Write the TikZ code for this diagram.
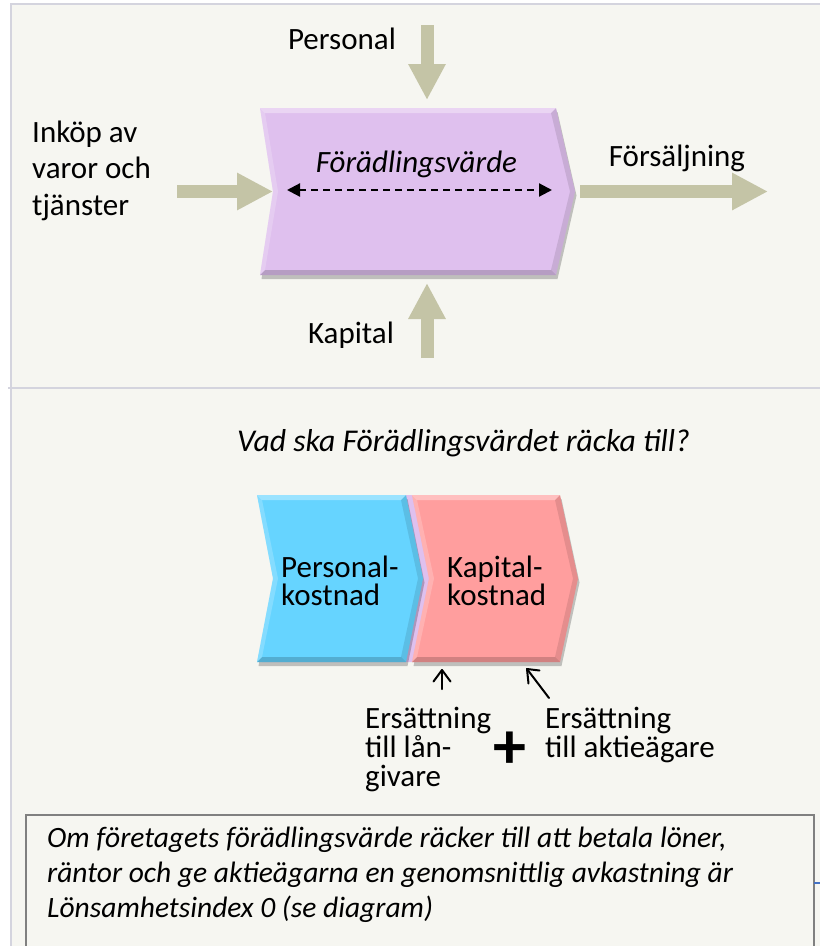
\documentclass[tikz,border=0pt]{standalone}
\usepackage{fontspec}
\setmainfont{Carlito}
\usetikzlibrary{arrows.meta,shadows}
\definecolor{bgc}{RGB}{246,246,241}
\definecolor{framec}{RGB}{212,212,222}
\definecolor{khaki}{RGB}{196,196,166}
\definecolor{lav}{RGB}{223,192,238}
\definecolor{skyb}{RGB}{102,212,255}
\definecolor{salmon}{RGB}{255,158,158}
\definecolor{boxline}{RGB}{128,128,128}
\definecolor{tickblue}{RGB}{68,114,196}
\tikzset{
  lbl/.style={inner sep=0pt, font=\fontsize{31}{31}\selectfont},
  ilbl/.style={inner sep=0pt, font=\fontsize{31}{31}\selectfont\itshape},
  qlbl/.style={inner sep=0pt, font=\fontsize{31.7}{31}\selectfont\itshape},
  notelbl/.style={inner sep=0pt, font=\fontsize{29.5}{30}\selectfont\itshape},
  blockarrow/.style={draw=khaki, line width=13pt, -{Triangle[width=35pt,length=36pt]}},
  smallline/.style={draw=black, line width=2pt, line cap=round, line join=round},
  framelines/.style={draw=framec, line width=2pt},
  chevshadow/.style={drop shadow={shadow xshift=1.5pt, shadow yshift=-4pt, opacity=0.22, fill=black}}
}
% #1 L, #2 R, #3 T, #4 B, #5 tip depth, #6 notch depth, #7 colour
\newcommand{\chevshape}[7]{%
  \pgfmathsetmacro\chvM{(#3+#4)/2}%
  \pgfmathsetmacro\chvTip{#2+#5}%
  \pgfmathsetmacro\chvNo{#1+#6}%
  \pgfmathsetmacro\chvLi{#1+5}%
  \pgfmathsetmacro\chvRi{#2-5}%
  \pgfmathsetmacro\chvTi{#3+5}%
  \pgfmathsetmacro\chvBi{#4-5}%
  \pgfmathsetmacro\chvTipi{#2+#5-5}%
  \pgfmathsetmacro\chvNoi{#1+#6+5}%
  \fill[#7, chevshadow] (#1,#3) -- (#2,#3) -- (\chvTip,\chvM) -- (#2,#4) -- (#1,#4) -- (\chvNo,\chvM) -- cycle;
  \fill[white, opacity=0.35] (#1,#3) -- (#2,#3) -- (\chvRi,\chvTi) -- (\chvLi,\chvTi) -- cycle;
  \fill[black, opacity=0.10] (#2,#3) -- (\chvTip,\chvM) -- (#2,#4) -- (\chvRi,\chvBi) -- (\chvTipi,\chvM) -- (\chvRi,\chvTi) -- cycle;
  \fill[black, opacity=0.18] (#1,#4) -- (#2,#4) -- (\chvRi,\chvBi) -- (\chvLi,\chvBi) -- cycle;
  \fill[white, opacity=0.20] (#1,#3) -- (\chvNo,\chvM) -- (#1,#4) -- (\chvLi,\chvBi) -- (\chvNoi,\chvM) -- (\chvLi,\chvTi) -- cycle;
}
\begin{document}
\begin{tikzpicture}[x=1pt, y=-1pt]
\useasboundingbox (0,0) rectangle (820,946);
\fill[white] (0,0) rectangle (820,946);
\fill[bgc] (11,4) rectangle (820,946);
% frame
\coordinate (fTL) at (11,4);
\coordinate (fTR) at (820,4);
\coordinate (fBL) at (11,946);
\coordinate (sL) at (8,388);
\coordinate (sR) at (820,388);
\draw[framelines] (fTR) -- (fTL) -- (fBL);
\draw[framelines] (sL) -- (sR);

% ---------- top panel ----------
\chevshape{260}{556}{108}{275}{19}{13}{lav}
\node[ilbl, anchor=base] (fv) at (416.5,172) {Förädlingsvärde};
\coordinate (dA) at (287,190);
\coordinate (dB) at (552,190);
\draw[line width=2.2pt, dash pattern=on 7pt off 5pt, {Triangle[width=13pt,length=13pt]}-{Triangle[width=13pt,length=13pt]}] (dA) -- (dB);

\coordinate (pS) at (427,25);   \coordinate (pE) at (427,100);
\coordinate (kS) at (427,358);  \coordinate (kE) at (427,283);
\coordinate (iS) at (177,191.5);\coordinate (iE) at (273,191.5);
\coordinate (fS) at (580,191.5);\coordinate (fE) at (768,191.5);
\draw[blockarrow] (pS) -- (pE);
\draw[blockarrow] (kS) -- (kE);
\draw[blockarrow] (iS) -- (iE);
\draw[blockarrow] (fS) -- (fE);

\node[lbl, anchor=base] (personal) at (342,49) {Personal};
\node[lbl, anchor=base] (kapital) at (351,343) {Kapital};
\node[lbl, anchor=base] (forsalj) at (677,166) {Försäljning};
\node[lbl, anchor=base west] (ink1) at (32,142) {Inköp av};
\node[lbl, anchor=base west] (ink2) at (32,178.5) {varor och};
\node[lbl, anchor=base west] (ink3) at (32,215) {tjänster};

% ---------- lower panel ----------
\node[qlbl, anchor=base west] (fraga) at (237,451) {Vad ska Förädlingsvärdet räcka till?};

\fill[lav] (262,495) -- (414,495) -- (431,577) -- (414,662) -- (262,662) -- (277,577) -- cycle;
\chevshape{257}{406}{495}{662}{17}{16}{skyb}
\chevshape{412}{560}{495}{662}{18}{17}{salmon}

\node[lbl, anchor=base west] (pk1) at (281,577) {Personal-};
\node[lbl, anchor=base west] (pk2) at (281,605) {kostnad};
\node[lbl, anchor=base west] (kk1) at (447,577) {Kapital-};
\node[lbl, anchor=base west] (kk2) at (447,605) {kostnad};

\coordinate (a1S) at (442,689); \coordinate (a1E) at (442,670);
\coordinate (a2S) at (549,698); \coordinate (a2E) at (527,669);
\draw[smallline] (a1S) -- (a1E);
\draw[smallline] (a1E) ++(-8.5,11.5) -- (a1E) -- ++(8.5,11.5);
\draw[smallline] (a2S) -- (a2E);
\draw[smallline] (a2E) ++(12.5,1.5) -- (a2E) -- ++(1.5,14.5);

\node[lbl, anchor=base west] (el1) at (365,728) {Ersättning};
\node[lbl, anchor=base west] (el2) at (365,757) {till lån-};
\node[lbl, anchor=base west] (el3) at (365,786) {givare};
\node[lbl, anchor=base west] (ea1) at (545,728) {Ersättning};
\node[lbl, anchor=base west] (ea2) at (545,757) {till aktieägare};
\node[inner sep=0pt, font=\fontsize{66}{66}\selectfont\bfseries] (plus) at (510,750) {+};

% ---------- note box ----------
\draw[draw=boxline, line width=1.6pt, fill=bgc] (26,815) rectangle (814,960);
\coordinate (tkA) at (814,883); \coordinate (tkB) at (820,883);
\draw[tickblue, line width=2pt] (tkA) -- (tkB);
\node[notelbl, anchor=base west] (n1) at (47,847) {Om företagets förädlingsvärde räcker till att betala löner,};
\node[notelbl, anchor=base west] (n2) at (47,882) {räntor och ge aktieägarna en genomsnittlig avkastning är};
\node[notelbl, anchor=base west] (n3) at (47,917) {Lönsamhetsindex 0 (se diagram)};
\end{tikzpicture}
\end{document}
